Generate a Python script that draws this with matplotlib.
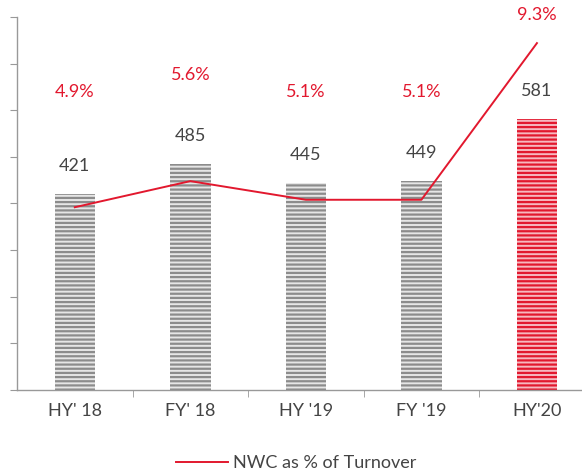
import matplotlib
matplotlib.use("Agg")
import matplotlib.pyplot as plt
from matplotlib.lines import Line2D

categories = ["HY' 18", "FY' 18", "HY '19", "FY '19", "HY'20"]
nwc_values = [421, 485, 445, 449, 581]
nwc_pct = [4.9, 5.6, 5.1, 5.1, 9.3]
pct_labels = ["4.9%", "5.6%", "5.1%", "5.1%", "9.3%"]

plt.rcParams['font.family'] = ['Lato', 'DejaVu Sans']
plt.rcParams['hatch.linewidth'] = 1.6

RED = '#e2182e'
GRAY = '#8c8c8c'
TXT = '#444444'

fig = plt.figure(figsize=(5.82, 4.74), dpi=100)
ax = fig.add_axes([17/582, 84/474, 1 - 17/582, (390-17)/474])

x = list(range(len(categories)))
for i, v in enumerate(nwc_values):
    last = i == len(nwc_values) - 1
    ax.bar(i, v, width=0.35, color='#f6b8c0' if last else '#e6e6e6',
           edgecolor=RED if last else GRAY, linewidth=0, hatch='----')
    ax.annotate(str(v), (i, v), xytext=(0, 20), textcoords='offset points',
                ha='center', va='center', fontsize=13, color=TXT)

ax.set_xlim(-0.5, 4.39)
ax.set_ylim(0, 800)
ax.set_yticks(range(0, 801, 100))
ax.set_yticklabels([])
ax.set_xticks(x)
ax.set_xticklabels(categories, fontsize=13, color=TXT)
ax.set_xticks([0.5, 1.5, 2.5, 3.5], minor=True)
ax.tick_params(axis='x', which='major', length=0, pad=9)
ax.tick_params(axis='x', which='minor', length=5, color='#999999', direction='out')
ax.tick_params(axis='y', length=5, color='#999999', direction='out')
for s in ['top', 'right']:
    ax.spines[s].set_visible(False)
for s in ['left', 'bottom']:
    ax.spines[s].set_color('#999999')
    ax.spines[s].set_linewidth(1)

ax2 = ax.twinx()
ax2.set_ylim(0, 10)
ax2.plot(x, nwc_pct, color=RED, linewidth=1.4)
ax2.axis('off')
label_y = [8.0, 8.45, 8.0, 8.0, 10.05]
for i, (t, yy) in enumerate(zip(pct_labels, label_y)):
    ax2.text(i, yy, t, ha='center', va='center', fontsize=13, color=RED, clip_on=False)

handle = Line2D([], [], color=RED, linewidth=1.4)
fig.legend([handle], ["NWC as % of Turnover"], loc='center',
           bbox_to_anchor=(0.509, 0.023), frameon=False, fontsize=13,
           handlelength=2.9, handletextpad=0.3, labelcolor=TXT)

fig.savefig("out.png", dpi=100)
